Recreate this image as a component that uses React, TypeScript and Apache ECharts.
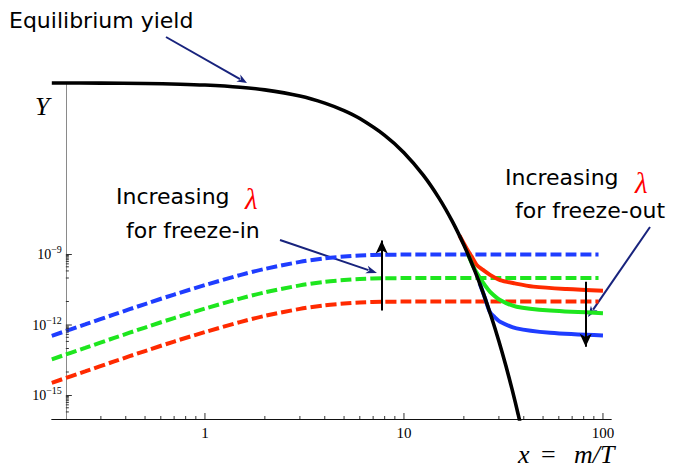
import React, { useEffect, useRef } from 'react';
import * as echarts from 'echarts';

// ---- axis ranges / ticks ----
const xRange = [0.17, 110];
const yRange = [1e-16, 0.0205];
const yAxisCrossing = 0.2;

const xLabelValues = [1, 10, 100];
const yLabelExponents = [-15, -12, -9];
const xMajorTicks = [1, 10, 100];
const xMinorTicks = [0.3, 0.4, 0.5, 0.6, 0.7, 0.8, 0.9, 2, 3, 4, 5, 6, 7, 8, 9, 20, 30, 40, 50, 60, 70, 80, 90];
const yMajorTicks = [1e-15, 1e-12, 1e-9];
const yMinorTicks = [
  2e-16, 3e-16, 4e-16, 5e-16, 6e-16, 7e-16, 8e-16, 9e-16, 1e-14, 1e-13,
  2e-13, 3e-13, 4e-13, 5e-13, 6e-13, 7e-13, 8e-13, 9e-13, 1e-11, 1e-10,
  2e-10, 3e-10, 4e-10, 5e-10, 6e-10, 7e-10, 8e-10, 9e-10,
];

// ---- series (x = m/T, Y) ----
const equilibrium: [number, number][] = [
  [0.17, 0.02], [0.3, 0.0196], [0.5, 0.01888], [0.75, 0.0177], [1, 0.01624], [1.5, 0.01314],
  [2, 0.01016], [3, 0.00554], [4, 0.00278], [5, 0.001328], [6, 6.1e-4], [8, 1.18e-4],
  [10, 2.15e-5], [12.5, 2.38e-6], [15, 2.51e-7], [17.5, 2.56e-8], [20, 2.53e-9],
  [22.5, 2.46e-10], [25, 2.34e-11], [27.5, 2.2e-12], [30, 2.05e-13], [32.5, 1.89e-14],
  [35, 1.73e-15], [37.5, 1.56e-16], [40, 1.41e-17],
];

const freezeInBlue: [number, number][] = [
  [0.17, 3.48e-13], [0.25, 1.06e-12], [0.35, 2.82e-12], [0.5, 7.8e-12], [0.7, 1.98e-11],
  [1, 5.0e-11], [1.5, 1.33e-10], [2, 2.44e-10], [3, 4.85e-10], [4, 6.9e-10], [5, 8.2e-10],
  [6, 9.1e-10], [8, 9.8e-10], [10, 9.9e-10], [15, 1.0e-9], [30, 1.0e-9], [95, 1.0e-9],
];
const freezeInGreen: [number, number][] = [
  [0.17, 3.48e-14], [0.25, 1.06e-13], [0.35, 2.82e-13], [0.5, 7.8e-13], [0.7, 1.98e-12],
  [1, 5.0e-12], [1.5, 1.33e-11], [2, 2.44e-11], [3, 4.85e-11], [4, 6.9e-11], [5, 8.2e-11],
  [6, 9.1e-11], [8, 9.8e-11], [10, 9.9e-11], [15, 1.0e-10], [30, 1.0e-10], [95, 1.0e-10],
];
const freezeInRed: [number, number][] = [
  [0.17, 3.48e-15], [0.25, 1.06e-14], [0.35, 2.82e-14], [0.5, 7.8e-14], [0.7, 1.98e-13],
  [1, 5.0e-13], [1.5, 1.33e-12], [2, 2.44e-12], [3, 4.85e-12], [4, 6.9e-12], [5, 8.2e-12],
  [6, 9.1e-12], [8, 9.8e-12], [10, 9.9e-12], [15, 1.0e-11], [30, 1.0e-11], [95, 1.0e-11],
];

const freezeOutRed: [number, number][] = [
  [19, 6.4e-9], [20.65, 1.8e-9], [21.9, 8.1e-10], [23.2, 3.6e-10], [25, 2.2e-10],
  [27.5, 1.26e-10], [30.4, 8.2e-11], [36, 5.9e-11], [44.7, 4.3e-11], [65.7, 3.4e-11], [100, 2.9e-11],
];
const freezeOutGreen: [number, number][] = [
  [21, 1.0e-9], [22.5, 2.6e-10], [24.1, 1.0e-10], [25.5, 5.0e-11], [27.05, 2.6e-11],
  [30.4, 1.16e-11], [36.8, 6.0e-12], [54.2, 4.1e-12], [100, 3.2e-12],
];
const freezeOutBlue: [number, number][] = [
  [24, 6.0e-11], [25.5, 1.45e-11], [27, 3.6e-12], [28.5, 2.2e-12], [30.4, 1.38e-12],
  [36.8, 7.2e-13], [54.2, 4.7e-13], [100, 3.6e-13],
];

// direction arrows (data coordinates)
const freezeInArrow: [number, number][] = [[7.73, 4.1e-12], [7.73, 3.9e-9]];
const freezeOutArrow: [number, number][] = [[81.9, 6.9e-11], [81.9, 1.2e-13]];

const BLUE = '#1f3dff';
const GREEN = '#1ee61e';
const RED = '#ff2a00';
const NAVY = '#18237d';
const SANS = '"DejaVu Sans", sans-serif';
const SERIF = '"Liberation Serif", "DejaVu Serif", serif';

function arrow(x1: number, y1: number, x2: number, y2: number, color: string, lw: number, hl: number, hw: number) {
  const dx = x2 - x1, dy = y2 - y1;
  const L = Math.hypot(dx, dy);
  const ux = dx / L, uy = dy / L;
  const bx = x2 - ux * hl, by = y2 - uy * hl;
  const px = -uy, py = ux;
  return [
    { type: 'line', silent: true, shape: { x1, y1, x2: bx + ux * 2, y2: by + uy * 2 }, style: { stroke: color, lineWidth: lw } },
    {
      type: 'polygon', silent: true,
      shape: { points: [[x2, y2], [bx + (px * hw) / 2, by + (py * hw) / 2], [bx + ux * 3, by + uy * 3], [bx - (px * hw) / 2, by - (py * hw) / 2]] },
      style: { fill: color },
    },
  ];
}

function tickRender(dir: 'x' | 'y', len: number) {
  return (_params: any, api: any) => {
    const p = api.coord([api.value(0), api.value(1)]);
    const shape = dir === 'x'
      ? { x1: p[0], y1: p[1], x2: p[0], y2: p[1] - len }
      : { x1: p[0], y1: p[1], x2: p[0] + len, y2: p[1] };
    return { type: 'line', shape, style: { stroke: '#333', lineWidth: 1 } };
  };
}

function lineSeries(name: string, data: [number, number][], color: string, dashed: boolean, z: number, width: number) {
  return {
    name,
    type: 'line',
    data,
    showSymbol: false,
    symbol: 'none',
    smooth: 0.3,
    z,
    silent: true,
    lineStyle: { color, width, type: dashed ? [11, 4] : 'solid', cap: 'butt' },
  };
}

export default function App() {
  const ref = useRef<HTMLDivElement>(null);
  useEffect(() => {
    if (!ref.current) return;
    const chart = echarts.init(ref.current, undefined, { renderer: 'svg' });
    const gridLeft = 51.8;
    const gridRight = 75.8;
    const gridWidth = 687 - gridLeft - gridRight;
    const yAxisShift =
      ((Math.log10(yAxisCrossing) - Math.log10(xRange[0])) / (Math.log10(xRange[1]) - Math.log10(xRange[0]))) * gridWidth;

    const italicSerif = (text: string, x: number, y: number, size: number) => ({
      type: 'text', x, y, silent: true,
      style: { text, fontSize: size, fontFamily: SERIF, fontStyle: 'italic', fill: '#000', verticalAlign: 'middle' },
    });

    const option: any = {
      animation: false,
      backgroundColor: '#ffffff',
      grid: { left: gridLeft, right: gridRight, top: 82.7, bottom: 49, containLabel: false, outerBoundsMode: 'none' },
      xAxis: {
        type: 'log',
        logBase: 10,
        min: xRange[0],
        max: xRange[1],
        splitLine: { show: false },
        axisTick: { show: false },
        axisLine: { show: true, lineStyle: { color: '#111', width: 1.2 } },
        axisLabel: {
          margin: 6,
          fontFamily: SERIF,
          fontSize: 15,
          color: '#000',
          formatter: (v: number) => {
            const hit = xLabelValues.find((t) => Math.abs(Math.log10(v) - Math.log10(t)) < 1e-6);
            return hit !== undefined ? String(hit) : '';
          },
        },
      },
      yAxis: {
        type: 'log',
        logBase: 10,
        min: yRange[0],
        max: yRange[1],
        interval: 1,
        offset: -yAxisShift,
        splitLine: { show: false },
        axisTick: { show: false },
        axisLine: { show: true, lineStyle: { color: '#8a8a8a', width: 1 } },
        axisLabel: {
          margin: 4,
          color: '#000',
          formatter: (v: number) => {
            const e = Math.round(Math.log10(v));
            if (Math.abs(Math.log10(v) - e) > 1e-6) return '';
            return yLabelExponents.includes(e) ? `{b|10}{s|\u2212${-e}}` : '';
          },
          rich: {
            b: { fontFamily: SERIF, fontSize: 14, lineHeight: 20, color: '#000' },
            s: { fontFamily: SERIF, fontSize: 10, lineHeight: 9, verticalAlign: 'top', color: '#000' },
          },
        },
      },
      series: [
        {
          type: 'custom', name: 'xMinor', silent: true, z: 6,
          data: xMinorTicks.map((v) => [v, yRange[0]]),
          encode: { x: 0, y: 1 },
          renderItem: tickRender('x', 3),
        },
        {
          type: 'custom', name: 'xMajor', silent: true, z: 6,
          data: xMajorTicks.map((v) => [v, yRange[0]]),
          encode: { x: 0, y: 1 },
          renderItem: tickRender('x', 6),
        },
        {
          type: 'custom', name: 'yMinor', silent: true, z: 6,
          data: yMinorTicks.map((v) => [yAxisCrossing, v]),
          encode: { x: 0, y: 1 },
          renderItem: tickRender('y', 3),
        },
        {
          type: 'custom', name: 'yMajor', silent: true, z: 6,
          data: yMajorTicks.map((v) => [yAxisCrossing, v]),
          encode: { x: 0, y: 1 },
          renderItem: tickRender('y', 6),
        },
        lineSeries('freeze-in blue', freezeInBlue, BLUE, true, 3, 4),
        lineSeries('freeze-in green', freezeInGreen, GREEN, true, 3, 4),
        lineSeries('freeze-in red', freezeInRed, RED, true, 3, 4),
        lineSeries('freeze-out red', freezeOutRed, RED, false, 4, 4),
        lineSeries('freeze-out green', freezeOutGreen, GREEN, false, 4, 4),
        lineSeries('freeze-out blue', freezeOutBlue, BLUE, false, 4, 4),
        lineSeries('equilibrium', equilibrium, '#000', false, 5, 3.6),
        {
          type: 'line', name: 'arrows', data: [], silent: true, z: 7,
          markLine: {
            silent: true,
            symbol: ['none', 'arrow'],
            symbolSize: [9, 13],
            label: { show: false },
            emphasis: { disabled: true },
            lineStyle: { color: '#000', width: 2, type: 'solid' },
            data: [
              [{ coord: freezeInArrow[0] }, { coord: freezeInArrow[1] }],
              [{ coord: freezeOutArrow[0] }, { coord: freezeOutArrow[1] }],
            ],
          },
        },
      ],
      graphic: [
        { type: 'text', x: 9, y: 20.7, silent: true, style: { text: 'Equilibrium yield', fontSize: 22, fontFamily: SANS, fill: '#000', verticalAlign: 'middle' } },
        ...arrow(166, 37, 247, 83, NAVY, 2, 10, 8),
        { type: 'text', x: 116, y: 196.7, silent: true, style: { text: 'Increasing', fontSize: 22, fontFamily: SANS, fill: '#000', verticalAlign: 'middle' } },
        { type: 'text', x: 245, y: 199, silent: true, style: { text: '\u03bb', fontSize: 29, fontFamily: SERIF, fontStyle: 'italic', fill: '#ff0000', verticalAlign: 'middle' } },
        { type: 'text', x: 126, y: 230, silent: true, style: { text: 'for freeze-in', fontSize: 22, fontFamily: SANS, fill: '#000', verticalAlign: 'middle' } },
        ...arrow(280, 240, 377, 273, NAVY, 2, 11, 8),
        { type: 'text', x: 505, y: 177.4, silent: true, style: { text: 'Increasing', fontSize: 22, fontFamily: SANS, fill: '#000', verticalAlign: 'middle' } },
        { type: 'text', x: 635, y: 182.5, silent: true, style: { text: '\u03bb', fontSize: 29, fontFamily: SERIF, fontStyle: 'italic', fill: '#ff0000', verticalAlign: 'middle' } },
        { type: 'text', x: 515, y: 210.7, silent: true, style: { text: 'for freeze-out', fontSize: 22, fontFamily: SANS, fill: '#000', verticalAlign: 'middle' } },
        ...arrow(650, 227, 588, 317, NAVY, 2, 11, 8),
        italicSerif('Y', 35, 106, 26),
        italicSerif('x', 518, 454.5, 26),
        {
          type: 'text', x: 541, y: 454.5, silent: true,
          style: { text: '=', fontSize: 26, fontFamily: SERIF, fill: '#000', verticalAlign: 'middle' },
        },
        italicSerif('m/T', 574, 454.5, 26),
      ],
    };
    chart.setOption(option);
    return () => chart.dispose();
  }, []);
  return (
    <div
      ref={ref}
      style={{ position: 'fixed', left: 0, top: 0, width: 687, height: 468, background: '#fff' }}
    />
  );
}
